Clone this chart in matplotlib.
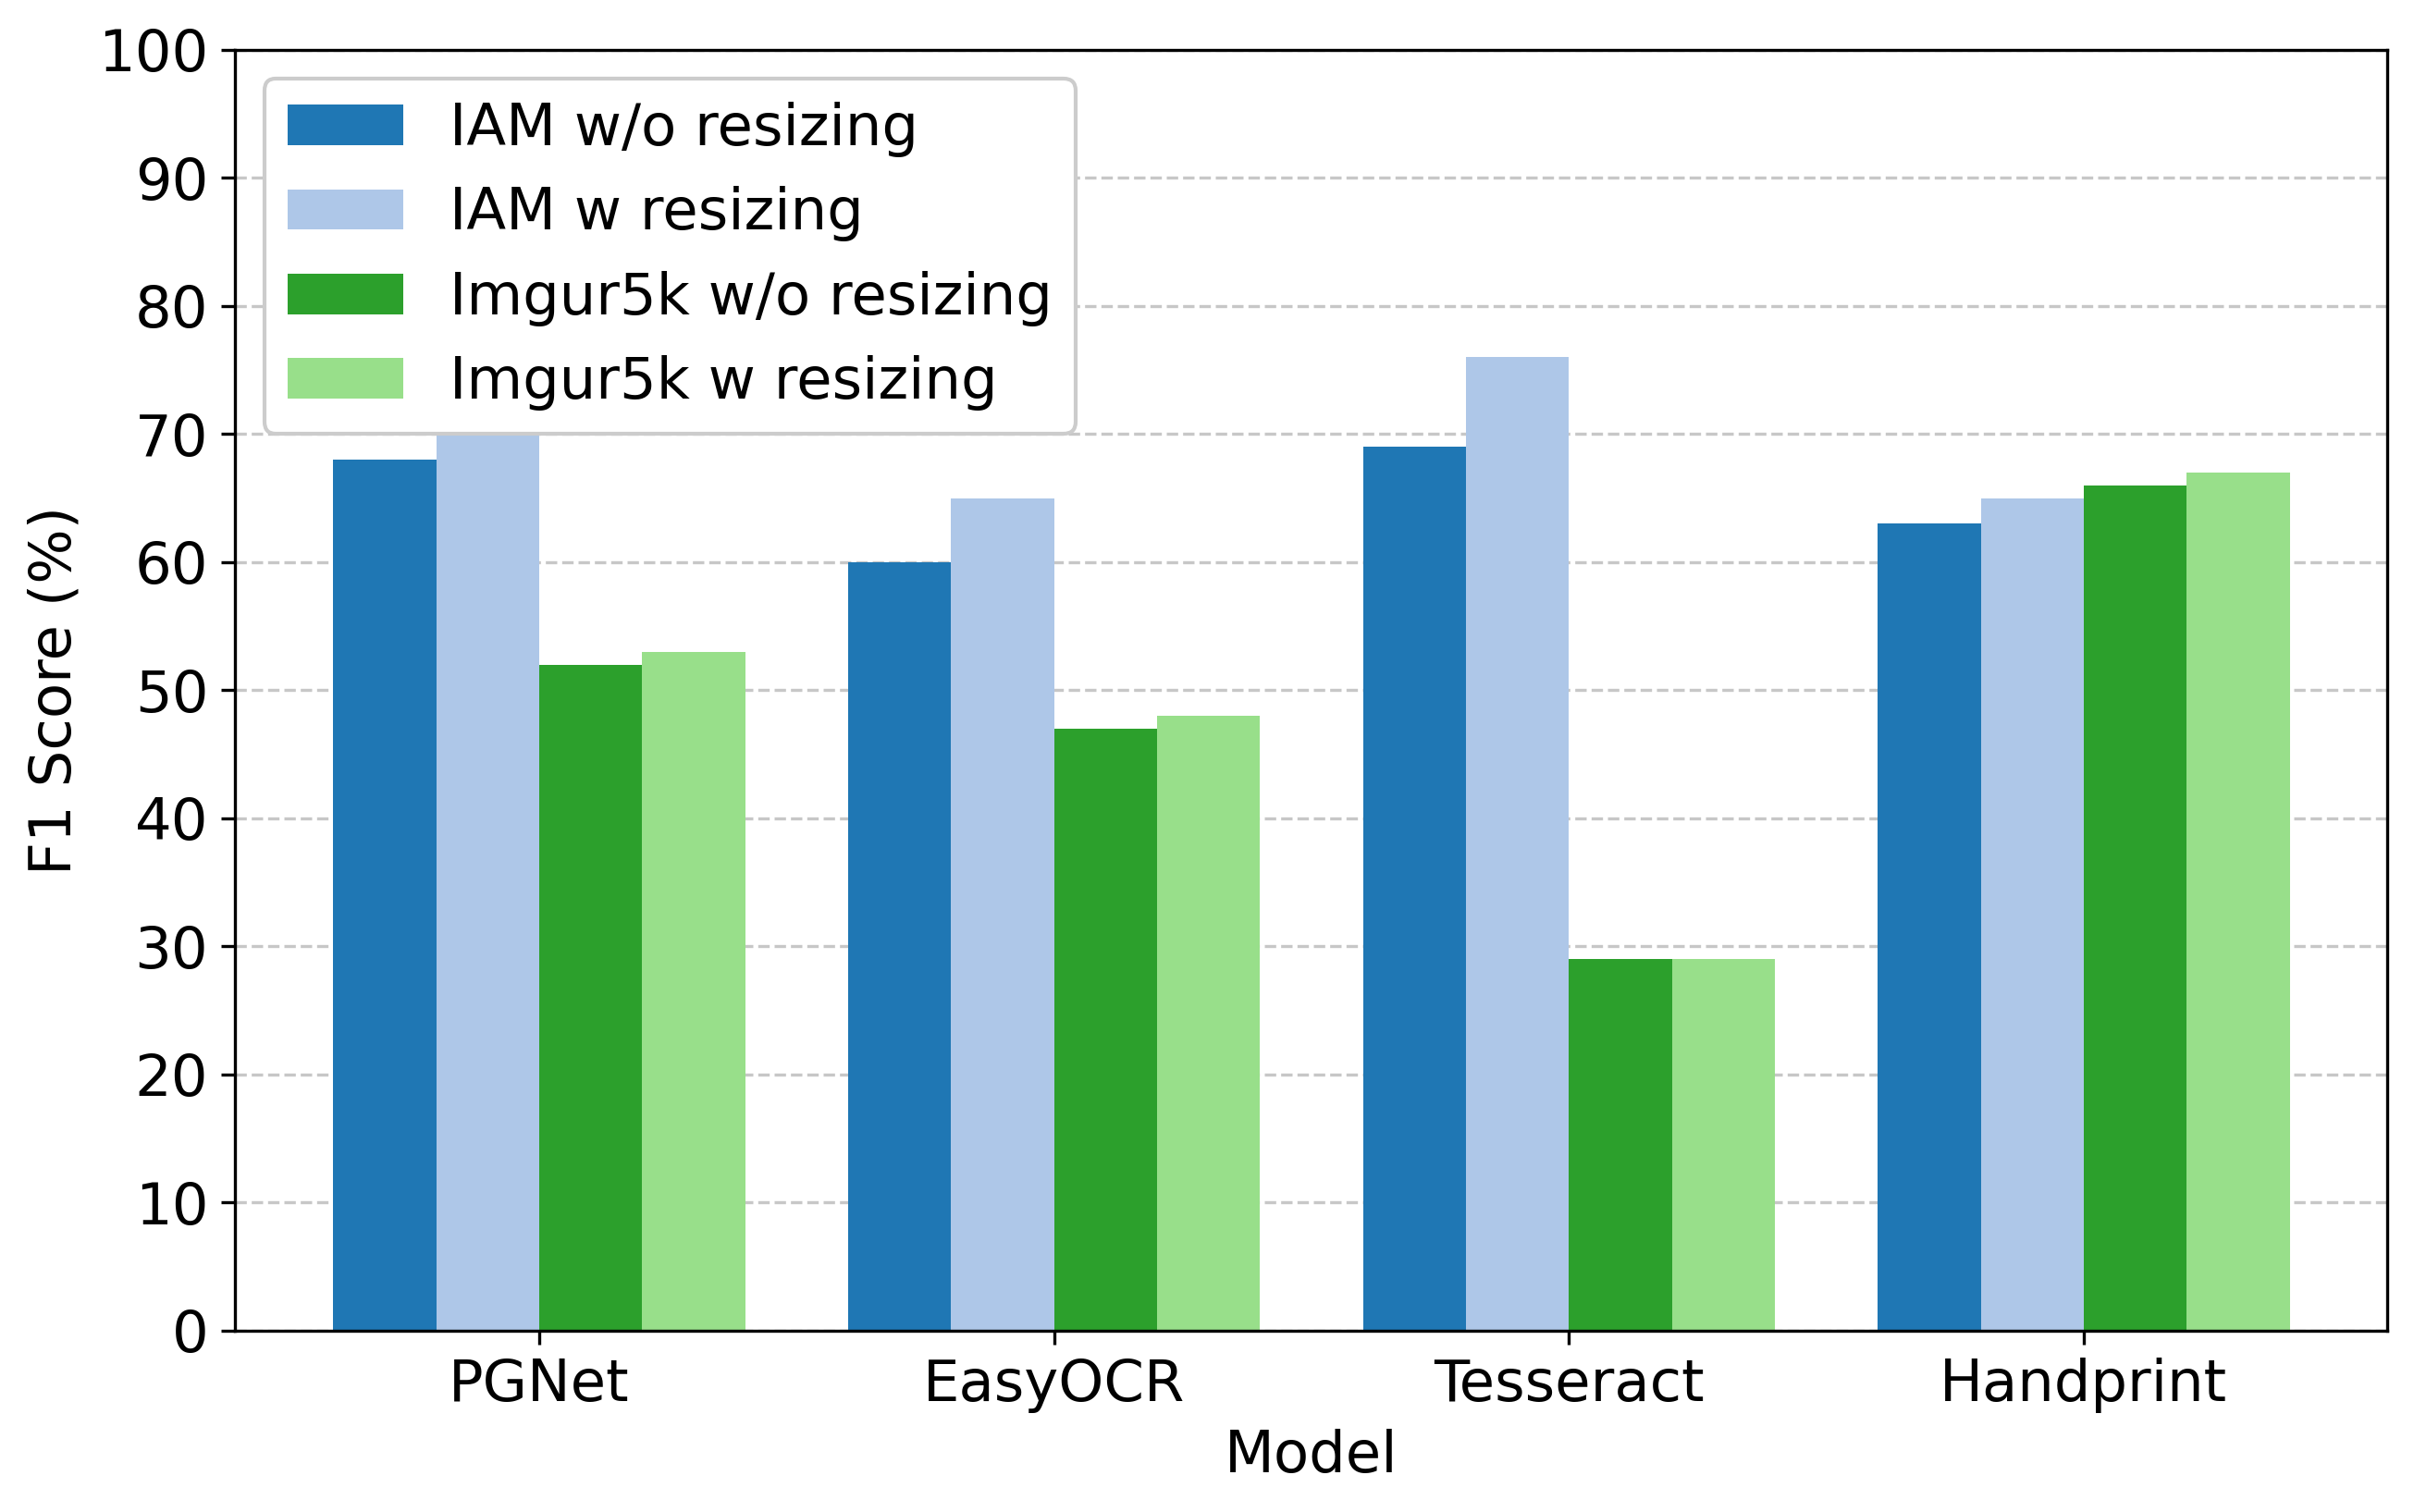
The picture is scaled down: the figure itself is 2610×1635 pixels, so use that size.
import matplotlib
matplotlib.use("Agg")
import matplotlib.pyplot as plt
import numpy as np

models = ["PGNet", "EasyOCR", "Tesseract", "Handprint"]
series_names = ["IAM w/o resizing", "IAM w resizing", "Imgur5k w/o resizing", "Imgur5k w resizing"]
iam_wo = [68, 60, 69, 63]
iam_w = [72, 65, 76, 65]
imgur_wo = [52, 47, 29, 66]
imgur_w = [53, 48, 29, 67]
colors = ["#1f77b4", "#aec7e8", "#2ca02c", "#98df8a"]

plt.rcParams['font.family'] = ['DejaVu Sans']
fig, ax = plt.subplots(figsize=(8.7, 5.45), dpi=300)
x = np.arange(len(models))
w = 0.2
for i, (vals, name) in enumerate(zip([iam_wo, iam_w, imgur_wo, imgur_w], series_names)):
    ax.bar(x + (i - 1.5) * w, vals, w, label=name, color=colors[i])

ax.set_ylim(0, 100)
ax.set_yticks(range(0, 101, 10))
ax.set_xticks(x)
ax.set_xticklabels(models, fontsize=15)
ax.tick_params(axis='y', labelsize=15)
ax.set_xlabel("Model", fontsize=15)
ax.set_ylabel("F1 Score (%)", fontsize=15)
ax.yaxis.grid(True, linestyle='--', alpha=0.7)
ax.set_axisbelow(True)
ax.legend(loc='upper left', fontsize=15, framealpha=1.0)
fig.subplots_adjust(left=0.0975, right=0.989, top=0.967, bottom=0.12)
fig.savefig("out.png", dpi=300)
